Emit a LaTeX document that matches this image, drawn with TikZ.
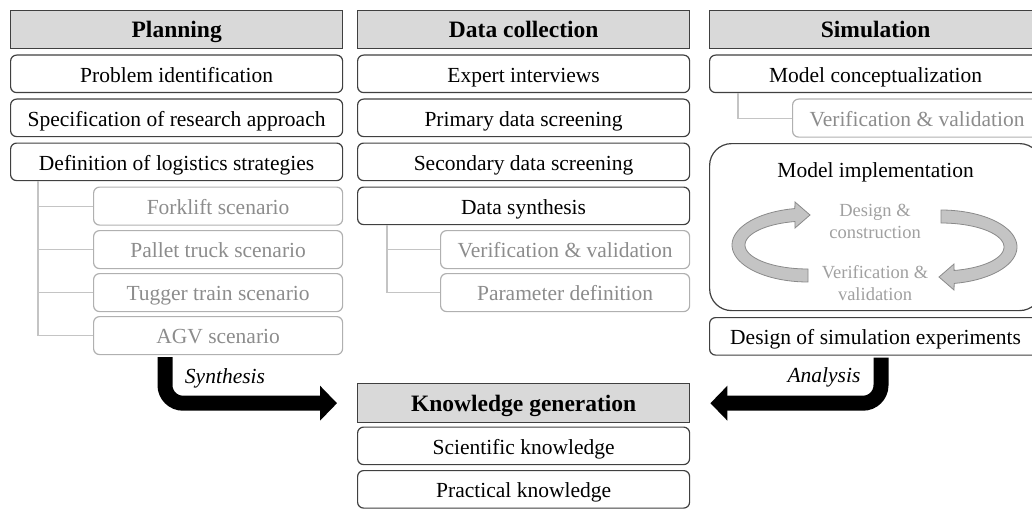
\documentclass[tikz,border=0pt]{standalone}
\usepackage{fontspec}
\setmainfont{Liberation Serif}
\usetikzlibrary{arrows.meta}

\definecolor{hdrfill}{HTML}{D9D9D9}
\definecolor{edge}{HTML}{404040}
\definecolor{subedge}{HTML}{B0B0B0}
\definecolor{subtext}{HTML}{8C8C8C}
\definecolor{twig}{HTML}{C4C4C4}
\definecolor{cyclefill}{HTML}{C4C4C4}
\definecolor{cycleedge}{HTML}{8A8A8A}
\definecolor{cycletext}{HTML}{A0A0A0}

\newcommand{\bodyfont}{\fontsize{21.5}{24}\selectfont}
\newcommand{\phasefont}{\fontsize{23.5}{26}\selectfont\bfseries}

\tikzset{
  boxbase/.style={anchor=north west, inner sep=0pt, align=center,
    text height=16.5pt, text depth=0pt},
  phasehead/.style={boxbase, draw=edge, line width=1.4pt, fill=hdrfill,
    minimum width=332pt, minimum height=38pt, font=\phasefont},
  task/.style={boxbase, draw=edge, line width=1.2pt, rounded corners=6pt,
    fill=white, minimum width=332pt, minimum height=37.5pt, font=\bodyfont},
  subtask/.style={boxbase, draw=subedge, line width=1.2pt, rounded corners=6pt,
    text=subtext, minimum width=249pt, minimum height=38pt, font=\bodyfont},
  twigline/.style={draw=twig, line width=1.2pt},
  flowarrow/.style={line width=15pt, rounded corners=18pt,
    -{Triangle[width=34pt,length=17pt]}},
  flowlabel/.style={font=\bodyfont\itshape},
  cyclearrow/.style={fill=cyclefill, draw=cycleedge, line width=0.8pt},
  cyclelabel/.style={text=cycletext, font=\fontsize{18.5}{22}\selectfont, align=center}
}

\begin{document}
\begin{tikzpicture}[x=1pt, y=-1pt]
\useasboundingbox (0,0) rectangle (1032,508);

% Planning
\node[phasehead] (plan)   at (10,10)    {Planning};
\node[task]      (prob)   at (10,54.5)  {Problem identification};
\node[task]      (spec)   at (10,98.5)  {Specification of research approach};
\node[task]      (defn)   at (10,142.5) {Definition of logistics strategies};
\node[subtask]   (fork)   at (93,186.5) {Forklift scenario};
\node[subtask]   (pallet) at (93,230)   {Pallet truck scenario};
\node[subtask]   (tugger) at (93,273)   {Tugger train scenario};
\node[subtask]   (agv)    at (93,316)   {AGV scenario};

\foreach \leaf in {fork,pallet,tugger,agv}
  \draw[twigline] ([xshift=28pt]defn.south west) |- (\leaf.west);

% Data collection
\node[phasehead] (data)   at (357,10)    {Data collection};
\node[task]      (expert) at (357,54.5)  {Expert interviews};
\node[task]      (prim)   at (357,98.5)  {Primary data screening};
\node[task]      (second) at (357,142.5) {Secondary data screening};
\node[task]      (synth)  at (357,186.5) {Data synthesis};
\node[subtask]   (dvv)    at (440,230)   {Verification \& validation};
\node[subtask]   (param)  at (440,273)   {Parameter definition};

\foreach \leaf in {dvv,param}
  \draw[twigline] ([xshift=30pt]synth.south west) |- (\leaf.west);

% Simulation
\node[phasehead] (sim)     at (709,10)   {Simulation};
\node[task]      (concept) at (709,54.5) {Model conceptualization};
\node[subtask]   (svv)     at (792,98.5) {Verification \& validation};
\draw[twigline] ([xshift=29pt]concept.south west) |- (svv.west);

\node[boxbase, draw=edge, line width=1.2pt, rounded corners=22pt,
      minimum width=332pt, minimum height=167pt] (impl) at (709,143) {};
\node[font=\bodyfont] (impltitle) at ([yshift=-29pt]impl.north) {Model implementation};

% implementation cycle
\path[cyclearrow]
  plot[domain=90:260, samples=40] ({808+76*cos(\x)},{245+37*sin(\x)})
  -- (795,202) -- (810,215) -- (795,228)
  -- plot[domain=258:90, samples=40] ({808+63*cos(\x)},{245+24*sin(\x)}) -- cycle;
\path[cyclearrow]
  plot[domain=-90:80, samples=40] ({941+76*cos(\x)},{247+37*sin(\x)})
  -- (954,290) -- (939,277) -- (954,264)
  -- plot[domain=78:-90, samples=40] ({941+63*cos(\x)},{247+24*sin(\x)}) -- cycle;
\node[cyclelabel] (design) at (875,221) {Design \&\\construction};
\node[cyclelabel] (ivv)    at (875,283) {Verification \&\\validation};

\node[task] (dse) at (709,317) {Design of simulation experiments};

% Knowledge generation
\node[phasehead, minimum height=39pt] (kgen) at (357,383) {Knowledge generation};
\node[task] (sci)  at (357,426.5) {Scientific knowledge};
\node[task] (prac) at (357,470)   {Practical knowledge};

% Flows into knowledge generation
\draw[flowarrow] ([xshift=72pt,yshift=-2pt]agv.south west) |- ([xshift=-20pt]kgen.west);
\draw[flowarrow] ([xshift=172pt,yshift=-2pt]dse.south west) |- ([xshift=20pt]kgen.east);
\node[flowlabel] (synlbl) at (225,378) {Synthesis};
\node[flowlabel] (anlbl)  at (824,377) {Analysis};
\end{tikzpicture}
\end{document}
